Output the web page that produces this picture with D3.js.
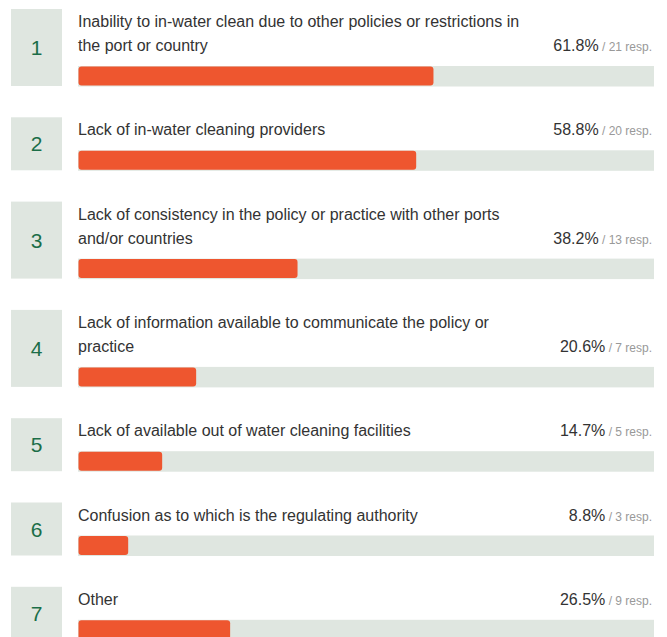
<!DOCTYPE html>
<html>
<head>
<meta charset="utf-8">
<script src="https://cdn.jsdelivr.net/npm/d3@7"></script>
<style>
  html, body { margin: 0; padding: 0; background: #fff; }
  svg { display: block; font-family: "Liberation Sans", Arial, sans-serif; }
</style>
</head>
<body>
<svg id="chart" width="667" height="637"></svg>
<script>
const ranks = [1, 2, 3, 4, 5, 6, 7];
const labels = [
  "Inability to in-water clean due to other policies or restrictions in the port or country",
  "Lack of in-water cleaning providers",
  "Lack of consistency in the policy or practice with other ports and/or countries",
  "Lack of information available to communicate the policy or practice",
  "Lack of available out of water cleaning facilities",
  "Confusion as to which is the regulating authority",
  "Other"
];
const percents = [61.8, 58.8, 38.2, 20.6, 14.7, 8.8, 26.5];
const responses = [21, 20, 13, 7, 5, 3, 9];

const svg = d3.select("#chart");
const x = d3.scaleLinear().domain([0, 100]).range([78, 654]);

const wrapWidth = 455;
const measurer = svg.append("text").attr("font-size", 16).attr("visibility", "hidden");
function wrap(str) {
  const words = str.split(" ");
  const lines = [];
  let cur = "";
  words.forEach(w => {
    const test = cur ? cur + " " + w : w;
    measurer.text(test);
    if (measurer.node().getComputedTextLength() > wrapWidth && cur) {
      lines.push(cur);
      cur = w;
    } else cur = test;
  });
  if (cur) lines.push(cur);
  return lines;
}

let rowTop = 9;
const rows = ranks.map((r, i) => {
  const lines = wrap(labels[i]);
  const h = 53 + 24 * (lines.length - 1);
  const row = { rank: r, lines, pct: percents[i], resp: responses[i], top: rowTop, h };
  rowTop += h + 31.3;
  return row;
});
measurer.remove();

const g = svg.selectAll("g.row").data(rows).join("g").attr("class", "row")
  .attr("transform", d => `translate(0,${d.top})`);

g.append("rect").attr("x", 11).attr("y", 0).attr("width", 51).attr("height", d => d.h)
  .attr("fill", "#dfe6e0");

g.append("text").attr("x", 36.5).attr("y", d => d.h / 2 + 7.5)
  .attr("text-anchor", "middle").attr("font-size", 21).attr("fill", "#1b6e48")
  .text(d => d.rank);

g.each(function(d) {
  const sel = d3.select(this);
  const t = sel.append("text").attr("font-size", 16).attr("fill", "#333");
  d.lines.forEach((ln, j) => {
    t.append("tspan").attr("x", 78).attr("y", 18 + 24 * j).text(ln);
  });
  const last = 18 + 24 * (d.lines.length - 1);
  const p = sel.append("text").attr("x", 652).attr("y", last).attr("text-anchor", "end");
  p.append("tspan").attr("font-size", 16).attr("fill", "#333").text(d.pct.toFixed(1) + "%");
  p.append("tspan").attr("font-size", 12).attr("fill", "#999").text(" / " + d.resp + " resp.");
  const trackY = last + 15;
  sel.append("rect").attr("x", x(0)).attr("y", trackY).attr("width", x(100) - x(0)).attr("height", 20.5)
    .attr("fill", "#dfe6e0");
  sel.append("rect").attr("x", x(0) + 0.5).attr("y", trackY + 0.5).attr("width", x(d.pct) - x(0) - 1).attr("height", 19)
    .attr("rx", 3).attr("fill", "#ee562f");
});
</script>
</body>
</html>
